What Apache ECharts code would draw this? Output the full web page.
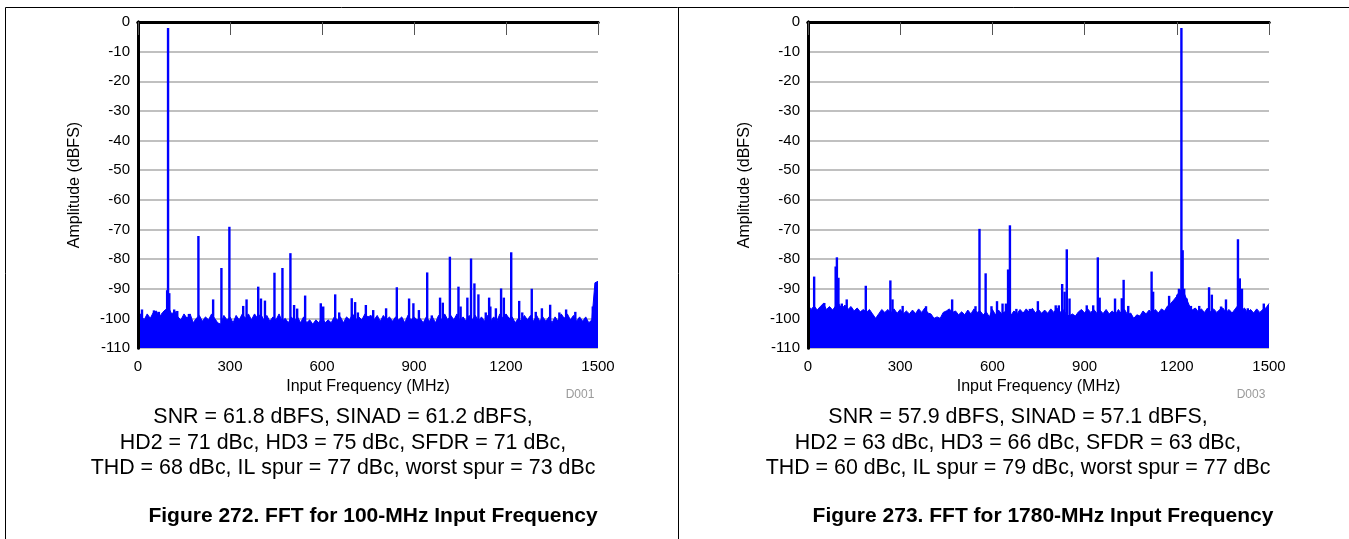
<!DOCTYPE html>
<html>
<head>
<meta charset="utf-8">
<script src="https://cdn.jsdelivr.net/npm/echarts@6.0.0/dist/echarts.min.js"></script>
<style>
html,body{margin:0;padding:0;background:#fff;}
#c{width:1349px;height:539px;}
</style>
</head>
<body>
<div id="c"></div>
<script>
// ---------- data ----------
const xTickInterval = 300;
const xMin = 0, xMax = 1500;
const yMin = -110, yMax = 0, yTickInterval = 10;
const noiseStep = 10; // MHz between noise-floor samples

// Left chart (100-MHz input): noise floor top, one row per 100 MHz
const noiseL = [
  -97.5, -99, -100.5, -98.5, -100, -98, -97.5, -99.5, -98, -97,
  -96.5, -98.5, -97.5, -99.5, -100.5, -98.5, -100, -98.5, -101.5, -100,
  -99, -101, -99.5, -100.5, -98.5, -100, -101.5, -102, -99, -100.5,
  -99.5, -101.5, -99, -100.5, -98.5, -100, -98.5, -100.5, -98.5, -100,
  -98.5, -100.5, -99, -101, -99.5, -100.5, -98.5, -101, -100, -101.5,
  -99.5, -101, -99.5, -101.5, -99.5, -101.5, -100.5, -102, -100.5, -101.5,
  -99.5, -101.5, -100.5, -101.5, -99.5, -100.5, -99.5, -101.5, -99.5, -100.5,
  -98.5, -100.5, -99.5, -100.5, -98.5, -99.5, -99, -100.5, -99, -101,
  -99, -100.5, -99.5, -101, -99.5, -100.5, -99.5, -101.5, -99, -100.5,
  -99.5, -100.5, -100, -101.5, -99.5, -101, -99.5, -101.5, -99, -100.5,
  -98.5, -100.5, -99, -100.5, -98.5, -101, -99.5, -101, -99, -100.5,
  -99, -101, -99.5, -101, -99, -101, -99.5, -101, -98.5, -100,
  -98.5, -100, -99.5, -101.5, -100, -101, -99, -100.5, -99, -101,
  -99, -101, -99.5, -101, -99.5, -101.5, -99.5, -101, -98.5, -100,
  -98.5, -100.5, -99, -101, -99.5, -101, -99.5, -101.5, -100.5, -88,
  -87.5
];
// Left chart spurs [MHz, dBFS]
const spikesL = [
  [13,-97],[52,-97.3],[68,-97.8],[95,-90.5],[98,-2],[102,-91.5],[118,-97],[128,-97.5],[166,-98.5],
  [197,-72.2],[245,-93.6],[272,-83],[298,-69.1],[343,-95.8],[354,-93.6],[392,-89.3],[401,-93.3],
  [414,-94],[445,-84.6],[471,-83],[497,-78],[509,-95.5],[519,-96.7],[545,-92.3],[596,-94.9],
  [604,-96],[643,-91.9],[656,-98],[697,-93.2],[708,-94.5],[717,-98],[743,-95.5],[767,-97.2],
  [809,-96.6],[844,-89.5],[884,-93.3],[898,-94.9],[916,-97.2],[943,-84.5],[958,-99],[985,-93],
  [994,-94.7],[1017,-79.2],[1045,-89.3],[1052,-96],[1074,-93],[1086,-79.8],[1097,-88.2],
  [1110,-91.9],[1134,-98],[1145,-93],[1149,-96],[1167,-96.6],[1184,-89.9],[1193,-93],
  [1217,-77.7],[1243,-94.1],[1253,-98],[1284,-90],[1297,-97.8],[1317,-96.6],[1344,-95.4],
  [1374,-98],[1396,-97],[1426,-97.8],[1483,-96]
];

// Right chart (1780-MHz input): noise floor top, one row per 100 MHz
const noiseR = [
  -95.5, -97, -95.8, -97.2, -96, -95, -97, -96, -97.2, -95.8,
  -95, -96.8, -95.5, -97, -96, -97.5, -96.5, -97.8, -97, -98,
  -97, -98.5, -100, -98.5, -97, -98, -97, -98.2, -96.8, -98.3,
  -97, -98.5, -97.5, -98.5, -97.2, -98.4, -96.8, -98, -96.5, -98.2,
  -98.5, -100, -99.5, -100, -98, -97.5, -96.8, -98, -97.5, -98.8,
  -97.8, -98.8, -97.2, -98.5, -96.8, -98, -97.5, -98.8, -97.8, -99.5,
  -97, -98.8, -97.2, -98.5, -97.8, -96.8, -99, -97.5, -98.5, -97,
  -98.2, -96.8, -98, -96.6, -98.2, -97, -98.3, -97.2, -98.3, -96.8,
  -98, -96.5, -98, -97, -98.5, -99.2, -98.5, -99.2, -97.8, -97,
  -98.2, -96.8, -98, -97, -98.3, -97.2, -98.4, -97, -98.5, -97.5,
  -98.8, -97, -98.5, -97, -98.8, -98.2, -100, -98.8, -99.2, -97.5,
  -98.5, -97.2, -98.5, -97, -98.2, -96.8, -97.5, -95.8, -95, -93.8,
  -92.5, -90.5, -90.5, -93, -95.5, -97.2, -96.5, -97.8, -96.8, -98,
  -96.5, -97.8, -96.8, -98, -97, -96.5, -98, -97, -98.2, -96.8,
  -95.5, -97.5, -96.5, -98, -97, -98.2, -96.8, -98, -97, -96.5,
  -95
];
// Right chart spurs [MHz, dBFS]
const spikesR = [
  [20,-85.9],[53,-94.8],[90,-82.5],[94,-79.4],[99,-86.3],[110,-95],[126,-93.6],[188,-89],
  [268,-87.2],[275,-93.6],[308,-95.8],[384,-95.9],[469,-93.6],[545,-95.9],[558,-69.8],
  [578,-84.8],[597,-95.9],[615,-94.2],[633,-95],[644,-95],[651,-83.5],[657,-68.6],[678,-96.8],
  [722,-96.8],[748,-94.2],[806,-95.6],[816,-95.6],[827,-88.4],[835,-91],[842,-76.7],[851,-93.3],
  [907,-95.6],[928,-95.6],[943,-79.4],[949,-93],[999,-93.3],[1021,-93.2],[1027,-87],[1042,-95.8],
  [1118,-84.2],[1123,-91],[1175,-92.4],[1191,-95.6],[1202,-92],[1207,-90],[1215,-2],[1219,-77],
  [1224,-90],[1232,-93.3],[1246,-95.8],[1262,-96.8],[1273,-95.8],[1305,-89.5],[1314,-92],
  [1344,-96],[1360,-93.6],[1399,-73.3],[1405,-86.5],[1412,-90],[1431,-96.6],[1483,-95]
];

const xAxisName = 'Input Frequency (MHz)';
const yAxisName = 'Amplitude (dBFS)';
const codeL = 'D001', codeR = 'D003';
const statsL = [
  'SNR = 61.8 dBFS, SINAD = 61.2 dBFS,',
  'HD2 = 71 dBc, HD3 = 75 dBc, SFDR = 71 dBc,',
  'THD = 68 dBc, IL spur = 77 dBc, worst spur = 73 dBc'
];
const statsR = [
  'SNR = 57.9 dBFS, SINAD = 57.1 dBFS,',
  'HD2 = 63 dBc, HD3 = 66 dBc, SFDR = 63 dBc,',
  'THD = 60 dBc, IL spur = 79 dBc, worst spur = 77 dBc'
];
const titleL = 'Figure 272. FFT for 100-MHz Input Frequency';
const titleR = 'Figure 273. FFT for 1780-MHz Input Frequency';

// ---------- chart ----------
const FONT = '"Liberation Sans", Arial, Helvetica, sans-serif';
const BLUE = '#0000ff';
const panels = [
  {left: 138, width: 460, noise: noiseL, spikes: spikesL, code: codeL, stats: statsL, title: titleL, statsX: 343, titleX: 373},
  {left: 808, width: 461, noise: noiseR, spikes: spikesR, code: codeR, stats: statsR, title: titleR, statsX: 1018, titleX: 1043}
];

const grid = [], xAxis = [], yAxis = [], series = [], graphic = [];

graphic.push(
  {type: 'line', shape: {x1: 5.5, y1: 7.5, x2: 1349, y2: 7.5}, style: {stroke: '#000', lineWidth: 1}, silent: true},
  {type: 'line', shape: {x1: 5.5, y1: 7.5, x2: 5.5, y2: 539}, style: {stroke: '#000', lineWidth: 1}, silent: true},
  {type: 'line', shape: {x1: 678.5, y1: 7.5, x2: 678.5, y2: 539}, style: {stroke: '#000', lineWidth: 1}, silent: true}
);

const plainNum = v => String(v);

panels.forEach((p, gi) => {
  grid.push({left: p.left, top: 22, width: p.width, height: 326, containLabel: false});
  const frameLine = {show: true, lineStyle: {color: '#000', width: 3}};
  xAxis.push({
    gridIndex: gi, type: 'value', min: xMin, max: xMax, interval: xTickInterval, position: 'bottom',
    axisLine: frameLine, axisTick: {show: false},
    axisLabel: {fontSize: 15, color: '#000', margin: 11, fontFamily: FONT, formatter: plainNum},
    splitLine: {show: false},
    name: xAxisName, nameLocation: 'middle', nameGap: 29,
    nameTextStyle: {fontSize: 16, color: '#000', fontFamily: FONT},
    z: 10
  });
  xAxis.push({
    gridIndex: gi, type: 'value', min: xMin, max: xMax, interval: xTickInterval, position: 'top',
    axisLine: frameLine, axisTick: {show: true, inside: true, length: 13, lineStyle: {color: '#555', width: 1}},
    axisLabel: {show: false}, splitLine: {show: false}, z: 10
  });
  yAxis.push({
    gridIndex: gi, type: 'value', min: yMin, max: yMax, interval: yTickInterval, position: 'left',
    axisLine: frameLine, axisTick: {show: false},
    axisLabel: {fontSize: 15, color: '#000', margin: 8, fontFamily: FONT, formatter: plainNum},
    splitLine: {show: false},
    name: yAxisName, nameLocation: 'middle', nameGap: 55, nameRotate: 90,
    nameTextStyle: {fontSize: 16, color: '#000', fontFamily: FONT},
    z: 10
  });
  yAxis.push({
    gridIndex: gi, type: 'value', min: yMin, max: yMax, interval: yTickInterval, position: 'right',
    axisLine: frameLine, axisTick: {show: false}, axisLabel: {show: false}, splitLine: {show: false}, z: 10
  });
  yAxis.push({
    gridIndex: gi, type: 'value', min: yMin, max: yMax, interval: yTickInterval, position: 'left',
    axisLine: {show: false}, axisTick: {show: false}, axisLabel: {show: false},
    splitLine: {show: true, lineStyle: {color: '#ababab', width: 1.5}}, z: 0
  });

  series.push({
    type: 'line', xAxisIndex: gi * 2, yAxisIndex: gi * 3,
    data: p.noise.map((v, i) => [i * noiseStep, v]),
    symbol: 'none', silent: true, animation: false,
    lineStyle: {color: BLUE, width: 1},
    areaStyle: {color: BLUE, opacity: 1, origin: 'start'},
    z: 2
  });
  series.push({
    type: 'custom', xAxisIndex: gi * 2, yAxisIndex: gi * 3,
    data: p.spikes, silent: true, animation: false, clip: true,
    renderItem: (params, api) => {
      const top = api.coord([api.value(0), api.value(1)]);
      const bot = api.coord([api.value(0), yMin]);
      return {type: 'rect', shape: {x: top[0] - 1.2, y: top[1], width: 2.4, height: bot[1] - top[1]}, style: {fill: BLUE}};
    },
    z: 3
  });

  graphic.push({type: 'text', x: p.left + p.width - 18, y: 395, style: {text: p.code, font: '12px ' + FONT, fill: '#9a9a9a', textAlign: 'center', textVerticalAlign: 'middle'}, silent: true});
  const ys = [417, 443, 468];
  p.stats.forEach((s, k) => {
    graphic.push({type: 'text', x: p.statsX, y: ys[k], style: {text: s, font: '21.4px ' + FONT, fill: '#000', textAlign: 'center', textVerticalAlign: 'middle'}, silent: true});
  });
  graphic.push({type: 'text', x: p.titleX, y: 516, style: {text: p.title, font: 'bold 21px ' + FONT, fill: '#000', textAlign: 'center', textVerticalAlign: 'middle'}, silent: true});
});

const chart = echarts.init(document.getElementById('c'), null, {renderer: 'canvas'});
chart.setOption({
  animation: false,
  backgroundColor: '#fff',
  grid, xAxis, yAxis, series, graphic
});
</script>
</body>
</html>
